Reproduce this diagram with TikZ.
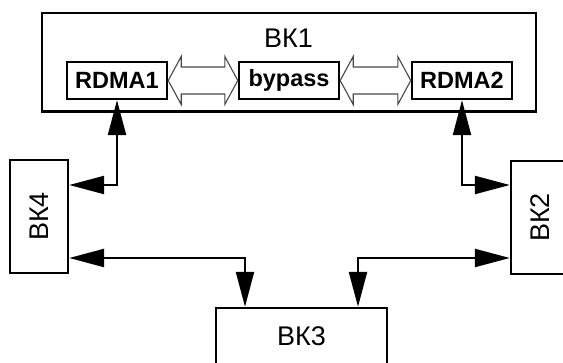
\documentclass[tikz,border=0pt]{standalone}
\usepackage{fontspec}
\setmainfont{Liberation Sans}
\usetikzlibrary{arrows.meta,calc}

\tikzset{
  box/.style={draw=black, line width=2.4pt, fill=white, inner sep=0pt},
  bigbox/.style={box, font=\fontsize{27}{30}\selectfont},
  unitbox/.style={box, minimum width=100pt, minimum height=37pt,
                  font=\bfseries\fontsize{23.5}{26}\selectfont},
  link/.style={line width=2.3pt,
                {Triangle[length=35pt,width=18pt]}-{Triangle[length=35pt,width=18pt]}},
  hollow/.style={draw=black!72, line width=1.1pt, fill=white, line join=miter},
}

\begin{document}
\begin{tikzpicture}[x=1pt,y=-1pt]
  \useasboundingbox (0,0) rectangle (563,363);
  \clip (0,0) rectangle (563,363);

  % main computer with its three units
  \node[box, minimum width=494pt, minimum height=98.5pt] (vk1) at (289,62.25) {};
  \node[font=\fontsize{27}{30}\selectfont] (vk1t) at (288.5,38) {ВК1};
  \node[unitbox] (rdma1) at (117,80.5) {RDMA1};
  \node[unitbox] (bypass) at (289,80.5) {bypass};
  \node[unitbox] (rdma2) at (462,80.5) {RDMA2};

  % the other computers
  \node[bigbox, minimum width=58pt, minimum height=113pt] (vk4) at (39,216.5)
       {\rotatebox{90}{ВК4}};
  \node[bigbox, minimum width=58pt, minimum height=113pt] (vk2) at (540,217.5)
       {\rotatebox{90}{ВК2}};
  \node[bigbox, minimum width=171pt, minimum height=60pt, text depth=0pt] (vk3) at (301.5,338)
       {\raisebox{3pt}{ВК3}};

  % hollow double arrows inside ВК1
  \foreach \a/\b in {rdma1/bypass, bypass/rdma2}{
    \path[hollow] let \p1=(\a.east), \p2=(\b.west) in
      (\x1,\y1) -- (\x1+13pt,\y1+24pt) -- (\x1+13pt,\y1+13.5pt)
      -- (\x2-13pt,\y1+13.5pt) -- (\x2-13pt,\y1+24pt) -- (\x2,\y1)
      -- (\x2-13pt,\y1-24pt) -- (\x2-13pt,\y1-13.5pt)
      -- (\x1+13pt,\y1-13.5pt) -- (\x1+13pt,\y1-24pt) -- cycle;
  }

  % turning levels of the links
  \coordinate (upper) at (0,185);
  \coordinate (lower) at (0,258);
  \coordinate (leftdrop) at (245,0);
  \coordinate (rightdrop) at (358,0);

  % links
  \draw[link] (rdma1.south) |- (vk4.east |- upper);
  \draw[link] (rdma2.south) |- (vk2.west |- upper);
  \draw[link] (vk4.east |- lower) -| (vk3.north -| leftdrop);
  \draw[link] (vk2.west |- lower) -| (vk3.north -| rightdrop);
\end{tikzpicture}
\end{document}
